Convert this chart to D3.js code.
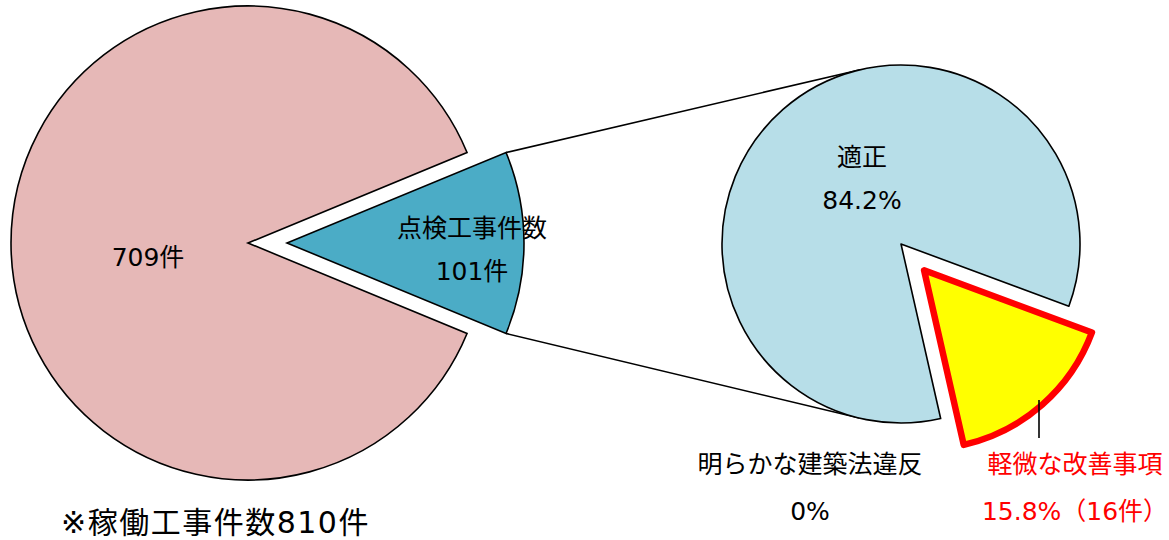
<!DOCTYPE html>
<html lang="ja">
<head>
<meta charset="utf-8">
<script src="https://cdn.jsdelivr.net/npm/d3@7"></script>
<style>
  html, body { margin: 0; padding: 0; background: #ffffff; }
  svg { display: block; }
  text { font-family: "DejaVu Sans", "Noto Sans CJK JP", sans-serif; }
</style>
</head>
<body>
<svg id="chart" width="1169" height="540"></svg>
<script>
// ---- data ----
const mainCategories = ["稼働工事（点検外）", "点検工事件数"];
const mainValues = [709, 101];
const mainLabels = [["709件"], ["点検工事件数", "101件"]];

const subCategories = ["適正", "軽微な改善事項", "明らかな建築法違反"];
const subValues = [84.2, 15.8, 0];
const subLabels = [["適正", "84.2%"], ["軽微な改善事項", "15.8%（16件）"], ["明らかな建築法違反", "0%"]];

const footnote = "※稼働工事件数810件";

// ---- layout ----
const svg = d3.select("#chart");

const leftC = [248, 243], rL = 237, explodeL = 39;
const rightC = [901, 244], rR = 179, explodeR = 35;

const mainColors = ["#E6B8B7", "#4BACC6"];
const subColors = ["#B7DEE8", "#FFFF00", "#B7DEE8"];

const total = d3.sum(mainValues);
const smallFrac = mainValues[1] / total;
// small slice bisector points to the right (east)
const leftStart = Math.PI / 2 - Math.PI * smallFrac - 2 * Math.PI * (mainValues[0] / total);
const pieL = d3.pie().sort(null).value(d => d)
  .startAngle(leftStart).endAngle(leftStart + 2 * Math.PI);
const arcsL = pieL(mainValues);

const rightStart = 167.2 * Math.PI / 180;
const pieR = d3.pie().sort(null).value(d => d)
  .startAngle(rightStart).endAngle(rightStart + 2 * Math.PI);
const arcsR = pieR(subValues);

const arcL = d3.arc().innerRadius(0).outerRadius(rL);
const arcR = d3.arc().innerRadius(0).outerRadius(rR);

function offset(a, e) {
  const m = (a.startAngle + a.endAngle) / 2;
  return [Math.sin(m) * e, -Math.cos(m) * e];
}

// ---- connector lines (tangents from small slice corners to secondary pie) ----
const small = arcsL[1];
const so = offset(small, explodeL);
const apex = [leftC[0] + so[0], leftC[1] + so[1]];
const cornerTop = [apex[0] + rL * Math.sin(small.startAngle), apex[1] - rL * Math.cos(small.startAngle)];
const cornerBot = [apex[0] + rL * Math.sin(small.endAngle), apex[1] - rL * Math.cos(small.endAngle)];

function tangent(P, C, r, sign) {
  const dx = C[0] - P[0], dy = C[1] - P[1];
  const d = Math.hypot(dx, dy);
  const th = Math.atan2(dy, dx);
  const al = Math.asin(r / d);
  const L = Math.sqrt(d * d - r * r);
  const ang = th + sign * al;
  return [P[0] + L * Math.cos(ang), P[1] + L * Math.sin(ang)];
}
const tTop = tangent(cornerTop, rightC, rR, -1);
const tBot = tangent(cornerBot, rightC, rR, +1);

svg.append("g").selectAll("line")
  .data([[cornerTop, tTop], [cornerBot, tBot]])
  .join("line")
  .attr("x1", d => d[0][0]).attr("y1", d => d[0][1])
  .attr("x2", d => d[1][0]).attr("y2", d => d[1][1])
  .attr("stroke", "#000").attr("stroke-width", 1.6);

// ---- left pie ----
const gL = svg.append("g").attr("transform", `translate(${leftC[0]},${leftC[1]})`);
gL.selectAll("path")
  .data(arcsL)
  .join("path")
  .attr("transform", (d, i) => i === 1 ? `translate(${offset(d, explodeL)})` : null)
  .attr("d", arcL)
  .attr("fill", (d, i) => mainColors[i])
  .attr("stroke", "#000")
  .attr("stroke-width", 1.6)
  .attr("stroke-linejoin", "miter");

// ---- right pie ----
const gR = svg.append("g").attr("transform", `translate(${rightC[0]},${rightC[1]})`);
gR.selectAll("path")
  .data(arcsR.filter(d => d.value > 0))
  .join("path")
  .attr("transform", d => d.index === 1 ? `translate(${offset(d, explodeR)})` : null)
  .attr("d", arcR)
  .attr("fill", d => subColors[d.index])
  .attr("stroke", d => d.index === 1 ? "#FF0000" : "#000")
  .attr("stroke-width", d => d.index === 1 ? 6.5 : 1.6)
  .attr("stroke-linejoin", "round");

// ---- labels ----
const fs = 25;
function twoLine(g, x, y, lines, color, gap) {
  g.append("text")
    .attr("x", x).attr("y", y)
    .attr("text-anchor", "middle")
    .attr("dominant-baseline", "central")
    .attr("font-size", fs)
    .attr("fill", color)
    .selectAll("tspan")
    .data(lines)
    .join("tspan")
    .attr("x", x)
    .attr("dy", (d, i) => i === 0 ? (lines.length > 1 ? -gap / 2 : 0) : gap)
    .text(d => d);
}
const labels = svg.append("g");
// big slice label
twoLine(labels, leftC[0] - 100, leftC[1] + 14, mainLabels[0], "#000", 0);
// small slice label
twoLine(labels, apex[0] + 185, apex[1] + 6, mainLabels[1], "#000", 43);
// 適正
twoLine(labels, rightC[0] - 39, rightC[1] - 66, subLabels[0], "#000", 43);
// 明らかな建築法違反
twoLine(labels, rightC[0] - 91, rightC[1] + 243, subLabels[2], "#000", 47);
// 軽微な改善事項
twoLine(labels, rightC[0] + 174, rightC[1] + 243, subLabels[1], "#FF0000", 47);

// leader line for 軽微な改善事項
const leadX = rightC[0] + 138;
labels.append("line")
  .attr("x1", leadX).attr("x2", leadX)
  .attr("y1", rightC[1] + 156).attr("y2", rightC[1] + 194)
  .attr("stroke", "#000").attr("stroke-width", 1.6);

// footnote
svg.append("text")
  .attr("x", 61).attr("y", 533)
  .attr("font-size", 30)
  .attr("letter-spacing", 1.5)
  .attr("fill", "#000")
  .text(footnote);
</script>
</body>
</html>
